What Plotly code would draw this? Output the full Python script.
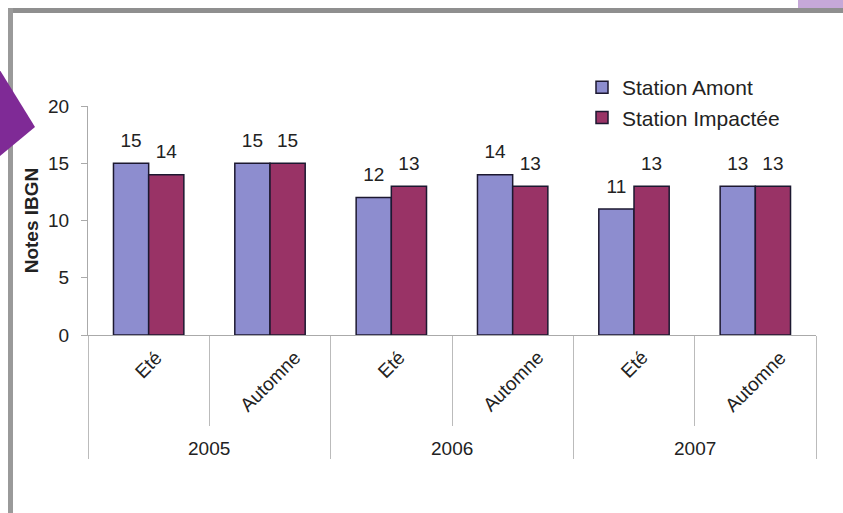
import plotly.graph_objects as go

years = ["2005", "2005", "2006", "2006", "2007", "2007"]
seasons = ["Eté", "Automne", "Eté", "Automne", "Eté", "Automne"]
amont = [15, 15, 12, 14, 11, 13]
impactee = [14, 15, 13, 13, 13, 13]

W, H = 843, 513
L, R, T, B = 88, 27, 106, 178
PW, PH = W - L - R, H - T - B


def px(x):
    return (x - L) / PW


def py(y):
    return (H - B - y) / PH


GAP = 0.42
fig = go.Figure()
series = [("Station Amont", amont, "#8d8dcf"), ("Station Impactée", impactee, "#993366")]
for name, vals, col in series:
    fig.add_trace(go.Bar(
        x=[years, seasons], y=vals, name=name,
        marker=dict(color=col, line=dict(color="#1c1830", width=1.5)),
        hoverinfo="skip",
    ))
for name, vals, col in series:
    fig.add_trace(go.Scatter(
        x=[years, seasons], y=vals, mode="markers+text", text=[str(v) for v in vals],
        textposition="top center", textfont=dict(size=19, color="#222"),
        marker=dict(size=17, color="rgba(0,0,0,0)"), showlegend=False,
        hoverinfo="skip", cliponaxis=False,
    ))

# season labels centred under each category (Excel-style rotation about the text centre)
for i, s in enumerate(seasons):
    fig.add_annotation(x=i, xref="x", y=py(344), yref="paper", text=s, showarrow=False,
                       textangle=-45, xanchor="center", yanchor="top",
                       font=dict(size=19, color="#222"))
# year labels centred under each pair of categories
uniq_years = list(dict.fromkeys(years))
for yr in uniq_years:
    idx = [i for i, y in enumerate(years) if y == yr]
    fig.add_annotation(x=sum(idx) / len(idx), xref="x", y=py(448), yref="paper", text=yr,
                       showarrow=False, xanchor="center", yanchor="middle",
                       font=dict(size=19, color="#222"))

fig.update_layout(
    width=W, height=H,
    margin=dict(l=L, r=R, t=T, b=B, autoexpand=False),
    paper_bgcolor="white", plot_bgcolor="white",
    font=dict(family="Liberation Sans, Arial, sans-serif", color="#222"),
    barmode="group", bargap=GAP, bargroupgap=0,
    scattermode="group", scattergap=GAP,
    showlegend=True,
    legend=dict(x=px(582), y=py(67), xanchor="left", yanchor="top",
                font=dict(size=21, color="#222"), bgcolor="rgba(0,0,0,0)",
                itemwidth=30, tracegroupgap=0),
    xaxis=dict(type="multicategory", showline=True, linecolor="#aaaaaa", linewidth=1,
               ticks="outside", tickson="boundaries", ticklen=90, tickcolor="#bbbbbb",
               tickangle=-45, tickfont=dict(size=19, color="rgba(0,0,0,0)"),
               showdividers=True, dividercolor="#bbbbbb", dividerwidth=1,
               showgrid=False),
    yaxis=dict(range=[0, 20], tickvals=[0, 5, 10, 15, 20], showline=True,
               linecolor="#aaaaaa", linewidth=1, ticks="outside", ticklen=6,
               tickcolor="#aaaaaa", showgrid=False, zeroline=False,
               ticklabelstandoff=8,
               tickfont=dict(size=19, color="#222"),
               title=dict(text="<b>Notes IBGN</b>", font=dict(size=19, color="#222"), standoff=4)),
)

# decorative frame and accents
fig.add_shape(type="line", xref="paper", yref="paper", x0=px(8), x1=px(850), y0=py(10.5), y1=py(10.5),
              line=dict(color="#8f8f8f", width=5))
fig.add_shape(type="line", xref="paper", yref="paper", x0=px(10.5), x1=px(10.5), y0=py(8), y1=py(520),
              line=dict(color="#9a9a9a", width=5))
fig.add_shape(type="rect", xref="paper", yref="paper", x0=px(798), x1=px(850),
              y0=py(8), y1=py(-2), fillcolor="#c6a8d8", line=dict(width=0))
fig.add_shape(type="path", xref="paper", yref="paper",
              path="M {} {} L {} {} L {} {} Z".format(px(-5), py(62), px(35), py(127), px(-5), py(160)),
              fillcolor="#7f2a96", line=dict(width=0))

fig.write_html("out.html", config={"displayModeBar": False},
               post_script="document.body.style.margin='0';document.body.style.overflow='hidden';")
